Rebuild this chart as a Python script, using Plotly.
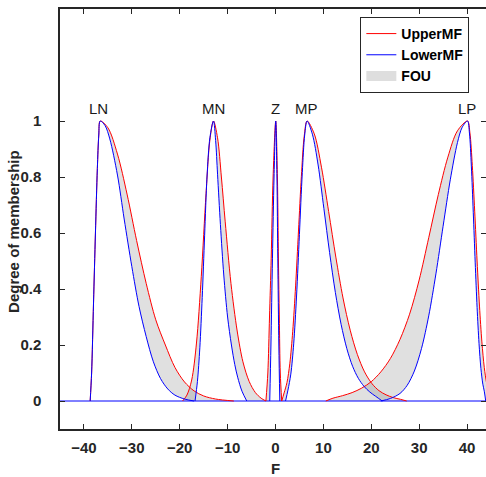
import plotly.graph_objects as go

# ---------------- data ----------------
X_DOMAIN = [-45, 45]
X_TICKS = [-40, -30, -20, -10, 0, 10, 20, 30, 40]
Y_TICKS = [0, 0.2, 0.4, 0.6, 0.8, 1]
Y_TICK_TEXT = ["0", "0.2", "0.4", "0.6", "0.8", "1"]

MF_NAMES = ["LN", "MN", "Z", "MP", "LP"]
LABEL_X = [-36.9, -13.0, 0.0, 6.5, 40.0]
LABEL_Y = [1.043, 1.043, 1.043, 1.043, 1.043]

# LN
LN_UP_X = [-38.7, -38.4, -38.0, -37.6, -37.2, -36.9, -36.6, -35.0, -33.0, -31.0, -29.0, -27.0, -25.0, -23.0, -21.0, -19.0, -17.0, -15.0, -12.5, -8.7]
LN_UP_Y = [0, 0.1, 0.35, 0.6, 0.83, 0.95, 1.0, 0.976, 0.882, 0.739, 0.573, 0.42, 0.29, 0.20, 0.12, 0.068, 0.036, 0.018, 0.007, 0]
LN_LO_X = [-38.7, -38.4, -38.0, -37.6, -37.2, -36.9, -36.6, -35.6, -34.6, -33.0, -31.6, -30.0, -28.5, -27.0, -25.5, -24.0, -22.5, -21.0, -19.0, -17.0]
LN_LO_Y = [0, 0.1, 0.35, 0.6, 0.83, 0.95, 1.0, 0.984, 0.936, 0.807, 0.65, 0.48, 0.338, 0.23, 0.14, 0.08, 0.043, 0.021, 0.007, 0]

# MN
MN_UP_X = [-19.4, -18.5, -17.5, -16.5, -15.5, -14.5, -13.7, -12.95, -12.1, -11.3, -10.5, -9.3, -8.0, -6.8, -5.5, -4.2, -3.0, -2.0]
MN_UP_Y = [0, 0.021, 0.075, 0.207, 0.444, 0.741, 0.932, 1.0, 0.94, 0.8, 0.64, 0.42, 0.25, 0.14, 0.07, 0.03, 0.01, 0]
MN_LO_X = [-16.8, -16.3, -15.8, -15.3, -14.8, -14.3, -13.7, -12.95, -12.5, -12.1, -11.5, -10.8, -10.0, -9.2, -8.5, -7.9, -7.0, -6.0]
MN_LO_Y = [0, 0.07, 0.19, 0.37, 0.59, 0.80, 0.94, 1.0, 0.93, 0.81, 0.63, 0.45, 0.3, 0.2, 0.13, 0.085, 0.035, 0]

# Z
Z_UP_X = [-2.0, -1.6, -1.25, -0.9, -0.5, 0.05, 0.4, 0.62, 0.8, 1.0, 1.3]
Z_UP_Y = [0, 0.1, 0.3, 0.51, 0.8, 1.0, 0.8, 0.5, 0.3, 0.1, 0]
Z_LO_X = [-1.2, -0.95, -0.63, -0.3, 0.05, 0.3, 0.48, 0.7, 0.9]
Z_LO_Y = [0, 0.2, 0.51, 0.8, 1.0, 0.8, 0.51, 0.2, 0]

# MP
MP_UP_X = [1.3, 1.8, 2.4, 3.0, 3.6, 4.2, 4.8, 5.4, 6.0, 6.6, 8.1, 9.6, 11.1, 12.6, 14.1, 15.6, 17.1, 18.6, 20.1, 21.6, 23.1, 24.6, 26.1, 27.4]
MP_UP_Y = [0, 0.029, 0.066, 0.135, 0.249, 0.411, 0.607, 0.801, 0.946, 1.0, 0.954, 0.835, 0.677, 0.514, 0.368, 0.253, 0.166, 0.104, 0.063, 0.037, 0.022, 0.012, 0.006, 0]
MP_LO_X = [2.1, 2.6, 3.2, 3.8, 4.4, 5.0, 5.6, 6.1, 6.6, 7.7, 8.9, 10.1, 11.3, 12.5, 13.7, 14.9, 16.1, 17.3, 18.5, 19.7, 20.9, 22.3]
MP_LO_Y = [0, 0.039, 0.096, 0.204, 0.375, 0.595, 0.816, 0.95, 1.0, 0.953, 0.843, 0.688, 0.53, 0.388, 0.274, 0.187, 0.124, 0.081, 0.052, 0.032, 0.017, 0]

# LP
LP_UP_X = [10.5, 12.0, 14.0, 16.0, 18.0, 20.0, 22.0, 24.0, 26.0, 28.0, 30.0, 32.0, 34.0, 36.0, 38.0, 40.1, 40.6, 41.1, 41.6, 42.1, 42.6, 43.1, 43.6, 44.1, 44.6, 45.1]
LP_UP_Y = [0, 0.01, 0.019, 0.03, 0.046, 0.069, 0.104, 0.152, 0.22, 0.31, 0.432, 0.583, 0.737, 0.871, 0.965, 1.0, 0.958, 0.841, 0.678, 0.5, 0.339, 0.211, 0.12, 0.063, 0.03, 0.013]
LP_LO_X = [22.0, 24.0, 26.0, 27.5, 29.0, 30.5, 32.0, 33.5, 35.0, 36.5, 38.0, 39.0, 40.1, 40.5, 40.9, 41.3, 41.7, 42.1, 42.5, 42.9, 43.3, 43.6, 43.9]
LP_LO_Y = [0, 0.009, 0.027, 0.056, 0.107, 0.188, 0.304, 0.454, 0.624, 0.79, 0.923, 0.978, 1.0, 0.957, 0.839, 0.674, 0.496, 0.334, 0.206, 0.116, 0.06, 0.035, 0]

UPPER = [(LN_UP_X, LN_UP_Y), (MN_UP_X, MN_UP_Y), (Z_UP_X, Z_UP_Y), (MP_UP_X, MP_UP_Y), (LP_UP_X, LP_UP_Y)]
LOWER = [(LN_LO_X, LN_LO_Y), (MN_LO_X, MN_LO_Y), (Z_LO_X, Z_LO_Y), (MP_LO_X, MP_LO_Y), (LP_LO_X, LP_LO_Y)]

# ---------------- styling ----------------
FONT = "Liberation Sans, Arial, Helvetica, sans-serif"
AX = "#262626"
RED = "#FF0000"
BLUE = "#0000FF"
FOU_FILL = "rgba(100,100,100,0.2)"
SMOOTH = 0.9

fig = go.Figure()

# FOU fills (upper -> lower with tonexty)
for (ux, uy), (lx, ly) in zip(UPPER, LOWER):
    fig.add_trace(go.Scatter(x=ux, y=uy, mode="lines",
                             line=dict(width=0, shape="spline", smoothing=SMOOTH),
                             showlegend=False, hoverinfo="skip"))
    fig.add_trace(go.Scatter(x=lx, y=ly, mode="lines", fill="tonexty",
                             fillcolor=FOU_FILL,
                             line=dict(width=0, shape="spline", smoothing=SMOOTH),
                             showlegend=False, hoverinfo="skip"))

# zero parts of the MFs over the whole universe of discourse
fig.add_trace(go.Scatter(x=X_DOMAIN, y=[0, 0], mode="lines", legendgroup="lo",
                         showlegend=False, hoverinfo="skip",
                         line=dict(color=BLUE, width=1)))

# upper MFs
for i, (ux, uy) in enumerate(UPPER):
    fig.add_trace(go.Scatter(x=ux, y=uy, mode="lines", name="UpperMF",
                             legendgroup="up", legendrank=1, showlegend=(i == 0),
                             line=dict(color=RED, width=1, shape="spline", smoothing=SMOOTH)))

# lower MFs
for i, (lx, ly) in enumerate(LOWER):
    fig.add_trace(go.Scatter(x=lx, y=ly, mode="lines", name="LowerMF",
                             legendgroup="lo", legendrank=2, showlegend=(i == 0),
                             line=dict(color=BLUE, width=1, shape="spline", smoothing=SMOOTH)))

# legend entry for FOU
fig.add_trace(go.Scatter(x=[None], y=[None], mode="lines", name="FOU",
                         legendgroup="fou", legendrank=3,
                         line=dict(color="rgb(222,222,222)", width=14)))

# dummy on right axis to show mirrored inside ticks
fig.add_trace(go.Scatter(x=[None], y=[None], yaxis="y2", showlegend=False, hoverinfo="skip"))

annotations = []
for name, lx, ly in zip(MF_NAMES, LABEL_X, LABEL_Y):
    annotations.append(dict(x=lx, y=ly, xref="x", yref="y", text=name, showarrow=False,
                            font=dict(family=FONT, size=15, color="#1a1a1a"),
                            xanchor="center", yanchor="middle"))
annotations.append(dict(x=0.505, y=-0.095, xref="paper", yref="paper", text="F",
                        showarrow=False, xanchor="center", yanchor="middle",
                        font=dict(family=FONT, size=15, color=AX, weight="bold")))
annotations.append(dict(x=-0.111, y=0.471, xref="paper", yref="paper",
                        text="Degree of membership", textangle=-90, showarrow=False,
                        xanchor="center", yanchor="middle",
                        font=dict(family=FONT, size=15, color=AX, weight="bold")))

fig.update_layout(
    width=486, height=477,
    margin=dict(l=60, r=0, t=9, b=48),
    paper_bgcolor="white", plot_bgcolor="white",
    font=dict(family=FONT, color=AX),
    xaxis=dict(range=[-45, 43.96], tickvals=X_TICKS, ticks="inside", ticklen=5,
               tickwidth=1, tickcolor=AX, showline=True, linecolor=AX, linewidth=1.5,
               mirror="ticks", showgrid=False, zeroline=False, automargin=False,
               tickfont=dict(family=FONT, size=15, color=AX, weight="bold"),
               ticklabelstandoff=4),
    yaxis=dict(range=[-0.1, 1.4], tickvals=Y_TICKS, ticktext=Y_TICK_TEXT, ticks="inside",
               ticklen=5, tickwidth=1, tickcolor=AX, showline=True, linecolor=AX,
               linewidth=1.5, mirror=False, showgrid=False, zeroline=False,
               automargin=False,
               tickfont=dict(family=FONT, size=15, color=AX, weight="bold"),
               ticklabelstandoff=14),
    yaxis2=dict(overlaying="y", side="right", range=[-0.1, 1.4], tickvals=Y_TICKS,
                ticks="inside", ticklen=5, tickwidth=1, tickcolor=AX, automargin=False,
                showticklabels=False, showline=False, showgrid=False, zeroline=False),
    legend=dict(x=0.705, y=0.981, xanchor="left", yanchor="top",
                bgcolor="white", bordercolor=AX, borderwidth=1,
                font=dict(family=FONT, size=14, color="black", weight="bold"),
                entrywidth=78, entrywidthmode="pixels",
                traceorder="normal", tracegroupgap=0),
    annotations=annotations,
    showlegend=True,
)

# remove the default 8px page margin so the figure fills the window exactly
fig.write_html("out.html", config={"displayModeBar": False},
               post_script="document.body.style.margin='0';document.body.style.overflow='hidden';")
